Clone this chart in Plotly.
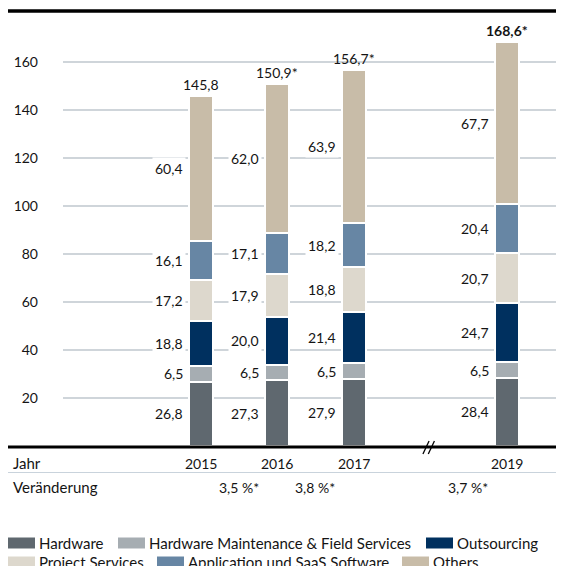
import plotly.graph_objects as go

# ---------------- data ----------------
years = [2015, 2016, 2017, 2019]
hardware = [26.8, 27.3, 27.9, 28.4]
hw_maintenance = [6.5, 6.5, 6.5, 6.5]
outsourcing = [18.8, 20.0, 21.4, 24.7]
project_services = [17.2, 17.9, 18.8, 20.7]
application_saas = [16.1, 17.1, 18.2, 20.4]
others = [60.4, 62.0, 63.9, 67.7]
total_labels = ["145,8", "150,9*", "156,7*", "168,6*"]
total_bold = [False, False, False, True]
change_labels = ["3,5 %*", "3,8 %*", "3,7 %*"]
change_x = [2015.5, 2016.5, 2018.5]
y_ticks = [20, 40, 60, 80, 100, 120, 140, 160]

series = [
    ("Hardware", hardware, "#5f686f"),
    ("Hardware Maintenance & Field Services", hw_maintenance, "#a6adb2"),
    ("Outsourcing", outsourcing, "#00305f"),
    ("Project Services", project_services, "#ddd8cd"),
    ("Application und SaaS Software", application_saas, "#6786a4"),
    ("Others", others, "#c8bca8"),
]

# ---------------- geometry (page pixels; page has an 8px body margin) ----------------
OFF = 8
W, H = 564 - OFF, 566 - OFF
PL, PR, PT, PB = 63, 560, 26, 446     # plot area in page pixels
L, R, T, B = PL - OFF, W - (PR - OFF), PT - OFF, H - (PB - OFF)
PW = PR - PL
PH = PB - PT


def px(x):
    return (x - PL) / PW


def py(y):
    return (PB - y) / PH


FONT = "Lato"
TXT = "#141414"
NUM = 14   # numbers
WRD = 15   # words

fig = go.Figure()
for name, vals, col in series:
    fig.add_trace(go.Bar(
        x=years, y=vals, name=name, width=0.315,
        marker=dict(color=col, line=dict(color="white", width=2.5)),
        hoverinfo="skip", showlegend=False,
    ))

ann = []
for i, yr in enumerate(years):
    base = 0.0
    for name, vals, col in series:
        v = vals[i]
        ann.append(dict(
            x=yr, y=base + v / 2, xref="x", yref="y",
            text=f"{v:.1f}".replace(".", ","), showarrow=False,
            xanchor="right", yanchor="middle", xshift=-15,
            bgcolor="white", borderpad=2,
            font=dict(family=FONT, size=NUM, color=TXT),
        ))
        base += v
    lbl = f"<b>{total_labels[i]}</b>" if total_bold[i] else total_labels[i]
    ann.append(dict(
        x=yr, y=base, xref="x", yref="y", text=lbl, showarrow=False,
        xanchor="center", yanchor="bottom", yshift=1,
        font=dict(family=FONT, size=NUM, color=TXT),
    ))
    ann.append(dict(
        x=yr, y=py(463), xref="x", yref="paper", text=str(yr), showarrow=False,
        xanchor="center", yanchor="middle",
        font=dict(family=FONT, size=NUM, color=TXT),
    ))

for cx, cl in zip(change_x, change_labels):
    ann.append(dict(
        x=cx, y=py(487), xref="x", yref="paper", text=cl, showarrow=False,
        xanchor="center", yanchor="middle",
        font=dict(family=FONT, size=NUM, color=TXT),
    ))

ann.append(dict(x=px(11), y=py(463), xref="paper", yref="paper", text="Jahr",
                showarrow=False, xanchor="left", yanchor="middle",
                font=dict(family=FONT, size=WRD, color=TXT)))
ann.append(dict(x=px(11), y=py(487), xref="paper", yref="paper", text="Veränderung",
                showarrow=False, xanchor="left", yanchor="middle",
                font=dict(family=FONT, size=WRD, color=TXT)))

shapes = []
shapes.append(dict(type="line", xref="paper", yref="paper",
                   x0=px(8), x1=px(560), y0=py(11), y1=py(11),
                   line=dict(color="black", width=3.5)))
shapes.append(dict(type="line", xref="paper", yref="paper",
                   x0=px(8), x1=px(560), y0=py(447), y1=py(447),
                   line=dict(color="black", width=3)))
shapes.append(dict(type="line", xref="paper", yref="paper",
                   x0=px(8), x1=px(560), y0=py(472.5), y1=py(472.5),
                   line=dict(color="#c9d3dc", width=1.2)))
for dx in (-0.06, 0.01):
    shapes.append(dict(type="line", xref="x", yref="paper",
                       x0=2018 + dx - 0.035, x1=2018 + dx + 0.045,
                       y0=py(454), y1=py(441),
                       line=dict(color="black", width=1.3)))

legend_layout = [
    (0, 8, 543), (1, 118, 543), (2, 426, 543),
    (3, 8, 562), (4, 157, 562), (5, 402, 562),
]
for idx, x0, yc in legend_layout:
    name, _, col = series[idx]
    shapes.append(dict(type="rect", xref="paper", yref="paper",
                       x0=px(x0), x1=px(x0 + 27), y0=py(yc - 5.5), y1=py(yc + 5.5),
                       fillcolor=col, line=dict(width=0)))
    ann.append(dict(x=px(x0 + 29), y=py(yc), xref="paper", yref="paper", text=name,
                    showarrow=False, xanchor="left", yanchor="middle",
                    font=dict(family=FONT, size=WRD, color=TXT)))

fig.update_layout(
    width=W, height=H,
    margin=dict(l=L, r=R, t=T, b=B, pad=0),
    barmode="stack", bargap=0,
    plot_bgcolor="white", paper_bgcolor="white",
    showlegend=False,
    font=dict(family=FONT, size=NUM, color=TXT),
    xaxis=dict(range=[2013.199, 2019.697], showticklabels=False, showgrid=False,
               zeroline=False, showline=False, fixedrange=True),
    yaxis=dict(range=[0, 175], tickvals=y_ticks, ticktext=[str(t) for t in y_ticks],
               showgrid=True, gridcolor="#cfd5da", gridwidth=1.5,
               zeroline=False, showline=False, ticks="", ticklabelstandoff=24,
               tickfont=dict(family=FONT, size=NUM, color=TXT), fixedrange=True),
    annotations=ann,
    shapes=shapes,
)

fig.write_html("out.html")
